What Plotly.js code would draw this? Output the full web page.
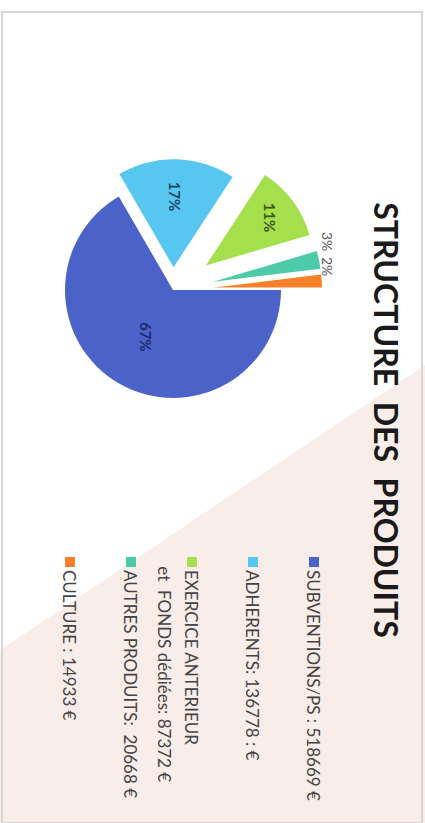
<!DOCTYPE html>
<html>
<head>
<meta charset="utf-8">
<script src="https://cdn.plot.ly/plotly-3.0.1.min.js"></script>
<style>
  html, body { margin: 0; padding: 0; width: 425px; height: 823px; overflow: hidden; background: #ffffff; }
  #chart { position: absolute; left: -199px; top: 199px; width: 823px; height: 425px;
           transform: rotate(90deg); transform-origin: 50% 50%; }
</style>
</head>
<body>
<div id="chart"></div>
<script>
// ---- data ----
const categories = ["SUBVENTIONS/PS", "ADHERENTS", "EXERCICE ANTERIEUR et FONDS dédiées", "AUTRES PRODUITS", "CULTURE"];
const values = [518669, 136778, 87372, 20668, 14933];
const percentLabels = ["67%", "17%", "11%", "3%", "2%"];
const legendLabels = [
  "SUBVENTIONS/PS : 518669 €",
  "ADHERENTS: 136778 : €",
  "EXERCICE ANTERIEUR<br> et  FONDS dédiées: 87372 €",
  "AUTRES PRODUITS:  20668 €",
  "CULTURE : 14933 €"
];
const colors = ["#4b63c8", "#57c6f0", "#a3e04c", "#4dcaa8", "#f6802a"];
const labelColors = ["#1f2b6b", "#1b4461", "#3b5716", "#5a5a5a", "#5a5a5a"];

// ---- layout helpers (landscape slide 823 x 425, then rotated) ----
const W = 823, H = 425;
const px = x => x / W;
const py = y => 1 - y / H;

const pull = [0, 0.21, 0.38, 0.38, 0.38];
const r = 108, cx = 290, cy = 252;
const half = r * (1 + Math.max(...pull));

// small slices get their percent placed just beyond the slice tip
const smallLabelPos = { 3: [241, 97], 4: [266, 97] };

const trace = {
  type: "pie",
  labels: categories,
  values: values,
  text: percentLabels.map((t, i) => (i in smallLabelPos ? "" : t)),
  textinfo: "text",
  textposition: percentLabels.map((t, i) => (i in smallLabelPos ? "none" : "inside")),
  insidetextorientation: "horizontal",
  sort: false,
  direction: "clockwise",
  rotation: 0,
  pull: pull,
  marker: { colors: colors, line: { width: 0 } },
  insidetextfont: { family: "Lato, sans-serif", size: 15, color: labelColors, weight: "bold" },
  domain: { x: [px(cx - half), px(cx + half)], y: [py(cy + half), py(cy - half)] },
  hoverinfo: "none",
  showlegend: false,
  automargin: false
};

const shapes = [
  // pale pink triangle background
  { type: "path", xref: "paper", yref: "paper", layer: "below",
    path: `M${px(365)},${py(0)} L1,${py(0)} L1,0 L${px(650)},0 Z`,
    fillcolor: "#f8ede9", line: { width: 0 } },
  // slide border
  { type: "rect", xref: "paper", yref: "paper", layer: "below",
    x0: px(12), x1: px(823), y0: py(3), y1: py(423),
    fillcolor: "rgba(0,0,0,0)", line: { color: "#d6d6d6", width: 2 } }
];
const annotations = [];

Object.keys(smallLabelPos).forEach(k => {
  const [x, y] = smallLabelPos[k];
  annotations.push({ xref: "paper", yref: "paper", x: px(x), y: py(y),
    xanchor: "center", yanchor: "middle", showarrow: false, text: percentLabels[k],
    font: { family: "Lato, sans-serif", size: 14, color: labelColors[k] } });
});

categories.forEach((c, i) => {
  const yc = 111 + i * 61;
  shapes.push({ type: "rect", xref: "paper", yref: "paper",
    x0: px(557), x1: px(567), y0: py(yc - 5), y1: py(yc + 5),
    fillcolor: colors[i], line: { width: 0 } });
  const lines = legendLabels[i].split("<br>");
  lines.forEach((t, k) => {
    annotations.push({ xref: "paper", yref: "paper", x: px(k === 0 ? 568 : 560), y: py(yc + k * 27),
      xanchor: "left", yanchor: "middle", showarrow: false, text: t,
      font: { family: "Lato, sans-serif", size: 17, color: "#444444" } });
  });
});

const layout = {
  width: W, height: H,
  margin: { l: 0, r: 0, t: 0, b: 0 },
  paper_bgcolor: "#ffffff",
  title: { text: "STRUCTURE  DES  PRODUITS", x: px(420), xanchor: "center",
           y: py(40), yanchor: "middle",
           font: { family: "Lato, sans-serif", size: 32, color: "#1a1a1a", weight: "bold" } },
  shapes: shapes,
  annotations: annotations,
  showlegend: false
};

Plotly.newPlot("chart", [trace], layout, { displayModeBar: false, staticPlot: true });
</script>
</body>
</html>
